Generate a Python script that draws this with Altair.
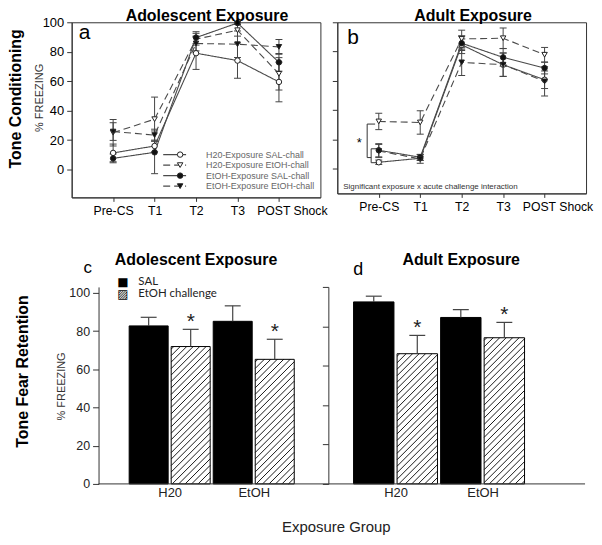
import json
import numpy as np
import pandas as pd
import altair as alt

FONT = "Liberation Sans"
LINE_COL = "#4a4a4a"
AX_COL = "#333333"

# ---------------- data ----------------
timepoints = ["Pre-CS", "T1", "T2", "T3", "POST Shock"]
series = ["H20-Exposure SAL-chall", "H20-Exposure EtOH-chall",
          "EtOH-Exposure SAL-chall", "EtOH-Exposure EtOH-chall"]
series_dash = [[1, 0], [7, 4], [1, 0], [7, 4]]
series_shape = ["circle", "triangle-down", "circle", "triangle-down"]
series_fill = ["white", "white", "#111111", "#111111"]

# Panel a: adolescent exposure, tone conditioning (% freezing)
adol_h2o_sal = [11.3, 16.0, 79.0, 74.0, 59.5]
adol_h2o_etoh = [25.0, 34.2, 88.5, 94.6, 65.0]
adol_etoh_sal = [7.6, 11.7, 89.6, 99.5, 72.8]
adol_etoh_etoh = [25.8, 23.4, 85.6, 85.1, 83.3]
adol_h2o_sal_sem = [6.0, 4.0, 11.0, 12.0, 13.5]
adol_h2o_etoh_sem = [9.0, 15.0, 4.0, 4.0, 11.0]
adol_etoh_sal_sem = [3.0, 14.5, 4.0, 1.0, 6.0]
adol_etoh_etoh_sem = [6.0, 4.0, 5.0, 9.0, 5.0]

# Panel b: adult exposure, tone conditioning
adult_h2o_sal = [4.3, 7.0, 84.6, 71.0, 60.7]
adult_h2o_etoh = [32.2, 31.5, 88.6, 89.1, 77.8]
adult_etoh_sal = [12.5, 7.7, 85.7, 76.0, 68.7]
adult_etoh_etoh = [12.0, 6.6, 72.6, 71.0, 59.6]
adult_h2o_sal_sem = [1.5, 1.5, 6.0, 8.0, 6.0]
adult_h2o_etoh_sem = [5.6, 8.0, 6.0, 7.0, 5.0]
adult_etoh_sal_sem = [4.5, 2.0, 5.0, 6.0, 4.0]
adult_etoh_etoh_sem = [4.5, 3.0, 9.0, 8.0, 10.0]

# significance bracket (panel b, Pre-CS)
bracket_big = [30.4, 7.5]
bracket_small = [13.5, 4.0]

# Panels c, d: tone fear retention
groups = ["H20", "EtOH"]
challenges = ["SAL", "EtOH challenge"]
challenge_glyph = ["\u25a0", "\u25a8"]
sig_marks = ["", "*"]
ret_adol_sal = [82.7, 85.1]
ret_adol_etoh = [71.9, 65.2]
ret_adol_sal_sem = [4.5, 8.1]
ret_adol_etoh_sem = [9.0, 10.5]
ret_adult_sal = [92.4, 84.5]
ret_adult_etoh = [66.1, 74.2]
ret_adult_sal_sem = [2.9, 4.0]
ret_adult_etoh_sem = [9.3, 7.8]

# texts
title_adol = "Adolescent Exposure"
title_adult = "Adult Exposure"
row1_label = "Tone Conditioning"
row2_label = "Tone Fear Retention"
ylab = "% FREEZING"
xlab = "Exposure Group"
note_b = "Significant exposure x acute challenge  interaction"

# ---------------- helpers ----------------
dash_scale = alt.Scale(domain=series, range=series_dash)
shape_scale = alt.Scale(domain=series, range=series_shape)
fill_scale = alt.Scale(domain=series, range=series_fill)

tp_expr = json.dumps(timepoints, ensure_ascii=False) + "[datum.value]"
grp_expr = json.dumps(groups, ensure_ascii=False) + "[datum.value]"
LAST_TP = len(timepoints) - 1


def txt(s, x, y, size, weight="normal", angle=0, align="center",
        baseline="alphabetic", font=FONT, color="black"):
    return alt.Chart(pd.DataFrame({"t": [s]})).mark_text(
        font=font, fontSize=size, fontWeight=weight, angle=angle,
        align=align, baseline=baseline, color=color
    ).encode(x=alt.value(x), y=alt.value(y), text="t:N")


def trend_df(blocks):
    rows = []
    for s, (m, e) in zip(series, blocks):
        for i in range(len(timepoints)):
            rows.append({"series": s, "t": i, "mean": m[i],
                         "lo": m[i] - e[i], "hi": m[i] + e[i]})
    return pd.DataFrame(rows)


def make_xaxis():
    kw = dict(values=list(range(len(timepoints))), labelExpr=tp_expr,
              title=None, grid=False, tickSize=4, labelFont=FONT,
              labelFontSize=12.3, labelColor="black", labelPadding=3,
              domainColor=AX_COL, tickColor=AX_COL, labelOverlap=False)
    try:
        ax = alt.Axis(labelOffset={"condition": {"test": f"datum.value == {LAST_TP}",
                                                 "value": 13}, "value": 0}, **kw)
        alt.Chart(pd.DataFrame({"t": [0]})).mark_point().encode(
            x=alt.X("t:Q", axis=ax)).to_dict()
        return ax
    except Exception:
        return alt.Axis(**kw)


def trend_main(blocks, ydom, show_labels):
    df = trend_df(blocks)
    xs = alt.Scale(domain=[-1, 5], nice=False, zero=False)
    ys = alt.Scale(domain=ydom, nice=False, zero=False)
    xax = make_xaxis()
    yax = alt.Axis(values=[0, 20, 40, 60, 80, 100], title=None, grid=False,
                   tickSize=5, labels=show_labels, labelFont=FONT,
                   labelFontSize=13, labelColor="black", labelPadding=3,
                   domainColor=AX_COL, tickColor=AX_COL)
    X = alt.X("t:Q", scale=xs, axis=xax)

    def Y(f):
        return alt.Y(f, scale=ys, axis=yax)

    base = alt.Chart(df)
    err = base.mark_rule(color="#444", strokeWidth=1).encode(x=X, y=Y("lo:Q"), y2="hi:Q")
    cap_lo = base.mark_tick(orient="horizontal", size=7, thickness=1, color="#444",
                            opacity=1).encode(x=X, y=Y("lo:Q"))
    cap_hi = base.mark_tick(orient="horizontal", size=7, thickness=1, color="#444",
                            opacity=1).encode(x=X, y=Y("hi:Q"))
    line = base.mark_line(color=LINE_COL, strokeWidth=1.1).encode(
        x=X, y=Y("mean:Q"),
        strokeDash=alt.StrokeDash("series:N", scale=dash_scale, legend=None),
        detail="series:N")
    pts = base.mark_point(filled=True, size=30, stroke="#222", strokeWidth=1,
                          opacity=1).encode(
        x=X, y=Y("mean:Q"),
        shape=alt.Shape("series:N", scale=shape_scale, legend=None),
        fill=alt.Fill("series:N", scale=fill_scale, legend=None))
    return [err, cap_lo, cap_hi, line, pts], ys, yax


# ---------------- panel a ----------------
A_W, A_H = 250, 176
a_layers, a_ys, a_yax = trend_main(
    [(adol_h2o_sal, adol_h2o_sal_sem), (adol_h2o_etoh, adol_h2o_etoh_sem),
     (adol_etoh_sal, adol_etoh_sal_sem), (adol_etoh_etoh, adol_etoh_etoh_sem)],
    [-18.9, 100], True)

leg = pd.DataFrame({"series": series, "row": list(range(len(series)))})
ly = alt.Y("row:Q", scale=alt.Scale(domain=[0, 3], range=[133, 164.7]), axis=None)
leg_rule = alt.Chart(leg).mark_rule(color=LINE_COL, strokeWidth=1.1).encode(
    x=alt.value(92), x2=alt.value(115), y=ly,
    strokeDash=alt.StrokeDash("series:N", scale=dash_scale, legend=None))
leg_pts = alt.Chart(leg).mark_point(filled=True, size=30, stroke="#222",
                                    strokeWidth=1, opacity=1).encode(
    x=alt.value(109), y=ly,
    shape=alt.Shape("series:N", scale=shape_scale, legend=None),
    fill=alt.Fill("series:N", scale=fill_scale, legend=None))
leg_txt = alt.Chart(leg).mark_text(align="left", baseline="middle", font=FONT,
                                   fontSize=9, color="#666").encode(
    x=alt.value(135), y=ly, text="series:N")

panel_a = alt.layer(
    alt.layer(*a_layers),
    alt.layer(leg_rule, leg_pts, leg_txt),
    txt(title_adol, 136, -1.5, 16, "bold"),
    txt("a", 7, 17, 21, align="left"),
    txt(row1_label, -55.5, 77, 16, "bold", angle=270, baseline="middle"),
    txt(ylab, -32, 76, 11, angle=270, baseline="middle", color="#333"),
).resolve_scale(y="independent").properties(
    width=A_W, height=A_H, view=alt.ViewBackground(stroke=AX_COL, strokeWidth=1))

# ---------------- panel b ----------------
B_W, B_H = 250, 172
b_layers, b_ys, b_yax = trend_main(
    [(adult_h2o_sal, adult_h2o_sal_sem), (adult_h2o_etoh, adult_h2o_etoh_sem),
     (adult_etoh_sal, adult_etoh_sal_sem), (adult_etoh_etoh, adult_etoh_etoh_sem)],
    [-17, 100], False)

bb = pd.DataFrame({"y": [bracket_big[0]], "y2": [bracket_big[1]]})
bs = pd.DataFrame({"y": [bracket_small[0]], "y2": [bracket_small[1]]})
br_big_v = alt.Chart(bb).mark_rule(color="#333").encode(
    x=alt.value(30), y=alt.Y("y:Q", scale=b_ys, axis=b_yax), y2="y2:Q")
br_big_top = alt.Chart(pd.DataFrame({"y": [bracket_big[0]]})).mark_rule(color="#333").encode(
    x=alt.value(30), x2=alt.value(38), y=alt.Y("y:Q", scale=b_ys, axis=b_yax))
br_big_bot = alt.Chart(pd.DataFrame({"y": [bracket_big[1]]})).mark_rule(color="#333").encode(
    x=alt.value(30), x2=alt.value(34), y=alt.Y("y:Q", scale=b_ys, axis=b_yax))
br_small_v = alt.Chart(bs).mark_rule(color="#333").encode(
    x=alt.value(34), y=alt.Y("y:Q", scale=b_ys, axis=b_yax), y2="y2:Q")
br_small_arms = alt.Chart(pd.DataFrame({"y": bracket_small})).mark_rule(color="#333").encode(
    x=alt.value(34), x2=alt.value(40), y=alt.Y("y:Q", scale=b_ys, axis=b_yax))

panel_b = alt.layer(
    *b_layers, br_big_v, br_big_top, br_big_bot, br_small_v, br_small_arms,
    txt("*", 22, 121, 13, baseline="middle"),
    txt(note_b, 6, 166, 8, align="left", baseline="middle", color="#333"),
    txt(title_adult, 136.5, -1.5, 16, "bold"),
    txt("b", 10, 22, 21, align="left"),
).properties(width=B_W, height=B_H,
             view=alt.ViewBackground(stroke=AX_COL, strokeWidth=1))

# ---------------- bar panels ----------------
BAR_OUT, BAR_GAP = 0.482, 0.018


def bar_df(sal, etoh, sal_sem, etoh_sem):
    rows = []
    for gi, g in enumerate(groups):
        for ci, ch in enumerate(challenges):
            val = [sal, etoh][ci][gi]
            err = [sal_sem, etoh_sem][ci][gi]
            x0 = gi + (-BAR_OUT if ci == 0 else BAR_GAP)
            x1 = gi + (-BAR_GAP if ci == 0 else BAR_OUT)
            rows.append({"group": g, "challenge": ch, "value": val,
                         "top": val + err, "x0": x0, "x1": x1,
                         "xc": (x0 + x1) / 2, "sig": sig_marks[ci]})
    return pd.DataFrame(rows)


def hatch_df(bars, pxx, pxy, step=6.5):
    rows = []
    for _, b in bars.iterrows():
        W = (b.x1 - b.x0) * pxx
        H = b.value * pxy
        c = -H + step * 0.4
        while c < W:
            xa, xb = max(0.0, c), min(W, c + H)
            if xb - xa > 0.6:
                rows.append({"hx0": b.x0 + xa / pxx, "hy0": (xa - c) / pxy,
                             "hx1": b.x0 + xb / pxx, "hy1": (xb - c) / pxy})
            c += step
    return pd.DataFrame(rows)


def bar_main(df, W, H, xdom, ydom, yax, xax, baseline_rule):
    xs = alt.Scale(domain=xdom, nice=False, zero=False)
    ys = alt.Scale(domain=ydom, nice=False, zero=False)
    pxx = W / (xdom[1] - xdom[0])
    pxy = H / (ydom[1] - ydom[0])

    def X(f):
        return alt.X(f, scale=xs, axis=xax)

    def Y(f):
        return alt.Y(f, scale=ys, axis=yax)

    base = alt.Chart(df)
    bars = base.mark_rect(stroke="black", strokeWidth=1).encode(
        x=X("x0:Q"), x2="x1:Q", y=Y("value:Q"), y2=alt.datum(0),
        fill=alt.Fill("challenge:N", scale=alt.Scale(domain=challenges,
                                                     range=["black", "white"]),
                      legend=None))
    hd = hatch_df(df[df.challenge == challenges[1]], pxx, pxy)
    hatch = alt.Chart(hd).mark_rule(color="black", strokeWidth=0.9).encode(
        x=X("hx0:Q"), y=Y("hy0:Q"), x2="hx1:Q", y2="hy1:Q")
    err = base.mark_rule(color="#444", strokeWidth=1.2).encode(
        x=X("xc:Q"), y=Y("value:Q"), y2="top:Q")
    cap = base.mark_tick(orient="horizontal", size=16, thickness=1.2,
                         color="#444", opacity=1).encode(x=X("xc:Q"), y=Y("top:Q"))
    star = base.mark_text(font=FONT, fontSize=21, baseline="middle", dy=-7,
                          color="#222").encode(x=X("xc:Q"), y=Y("top:Q"), text="sig:N")
    layers = [bars, hatch, err, cap, star]
    if baseline_rule is not None:
        layers.append(alt.Chart(df.head(1)).mark_rule(color=AX_COL).encode(
            x=alt.value(baseline_rule[0]), x2=alt.value(baseline_rule[1]),
            y=alt.Y(datum=0, scale=ys, axis=yax)))
    return layers


# panel c: view spans to the left edge of panel a's column; axis moved inward
C_W, C_H = 258, 198
c_xdom = [-1.166, 1.888]
c_ydom = [0, 103.1]
c_yax = alt.Axis(values=[0, 20, 40, 60, 80, 100], title=None, grid=False,
                 tickSize=6, labelFont=FONT, labelFontSize=12.5, labelColor="#222",
                 labelPadding=3, domainColor=AX_COL, tickColor=AX_COL, offset=-27)
c_xax = alt.Axis(values=[0, 1], labelExpr=grp_expr, title=None, grid=False,
                 ticks=False, domain=False, labelFont=FONT, labelFontSize=13,
                 labelColor="#222", labelPadding=3)
c_df = bar_df(ret_adol_sal, ret_adol_etoh, ret_adol_sal_sem, ret_adol_etoh_sem)
c_layers = bar_main(c_df, C_W, C_H, c_xdom, c_ydom, c_yax, c_xax, (27, C_W))

cleg = pd.DataFrame({"challenge": challenges, "glyph": challenge_glyph,
                     "row": list(range(len(challenges)))})
cly = alt.Y("row:Q", scale=alt.Scale(domain=[0, 1], range=[-5, 7]), axis=None)
cleg_g = alt.Chart(cleg).mark_text(font="DejaVu Sans", fontSize=12,
                                   baseline="middle", align="center").encode(
    x=alt.value(51.5), y=cly, text="glyph:N")
cleg_t = alt.Chart(cleg).mark_text(font="Lato", fontSize=11.5, baseline="middle",
                                   align="left", color="#222").encode(
    x=alt.value(67), y=cly, text="challenge:N")

panel_c = alt.layer(
    alt.layer(*c_layers),
    alt.layer(cleg_g, cleg_t),
    txt(title_adol, 125, -22, 16, "bold"),
    txt("c", 12, -14, 17, align="left"),
    txt(row2_label, -48.5, 85, 16, "bold", angle=270, baseline="middle"),
    txt(ylab, -10, 100, 11, angle=270, baseline="middle", color="#333"),
    txt(xlab, 266, 241, 15, baseline="middle", color="#222"),
).resolve_scale(y="independent").properties(
    width=C_W, height=C_H, view=alt.ViewBackground(strokeOpacity=0))

# panel d: view starts in panel b's column; axis moved outward by 9 px
D_W, D_H = 249, 198
d_xdom = [-0.6686, 2.177]
d_ydom = [0, 100]
d_yax = alt.Axis(values=[0, 20, 40, 60, 80, 100], title=None, grid=False,
                 tickSize=6, labels=False, domainColor=AX_COL, tickColor=AX_COL,
                 offset=9)
d_xax = alt.Axis(values=[0, 1], labelExpr=grp_expr, title=None, grid=False,
                 ticks=False, domain=False, labelFont=FONT,
                 labelFontSize=13, labelColor="#222", labelPadding=3)
d_df = bar_df(ret_adult_sal, ret_adult_etoh, ret_adult_sal_sem, ret_adult_etoh_sem)
d_layers = bar_main(d_df, D_W, D_H, d_xdom, d_ydom, d_yax, d_xax, (-9, D_W))

panel_d = alt.layer(
    *d_layers,
    txt(title_adult, 124.5, -22, 16, "bold"),
    txt("d", 16, -12, 18, align="left"),
).properties(width=D_W, height=D_H, view=alt.ViewBackground(strokeOpacity=0))

chart = alt.concat(
    panel_a, panel_b, panel_c, panel_d,
    columns=2, bounds="flush",
    spacing={"row": 90, "column": 9},
).resolve_scale(fill="independent", shape="independent",
                strokeDash="independent").properties(background="white")

try:
    shifted = chart.properties(padding={"left": 0, "top": -2, "right": 0, "bottom": 0})
    shifted.to_dict()
    chart = shifted
except Exception:
    chart = chart.properties(padding=0)

chart.save("out.html", embed_options={"renderer": "svg", "actions": False})
